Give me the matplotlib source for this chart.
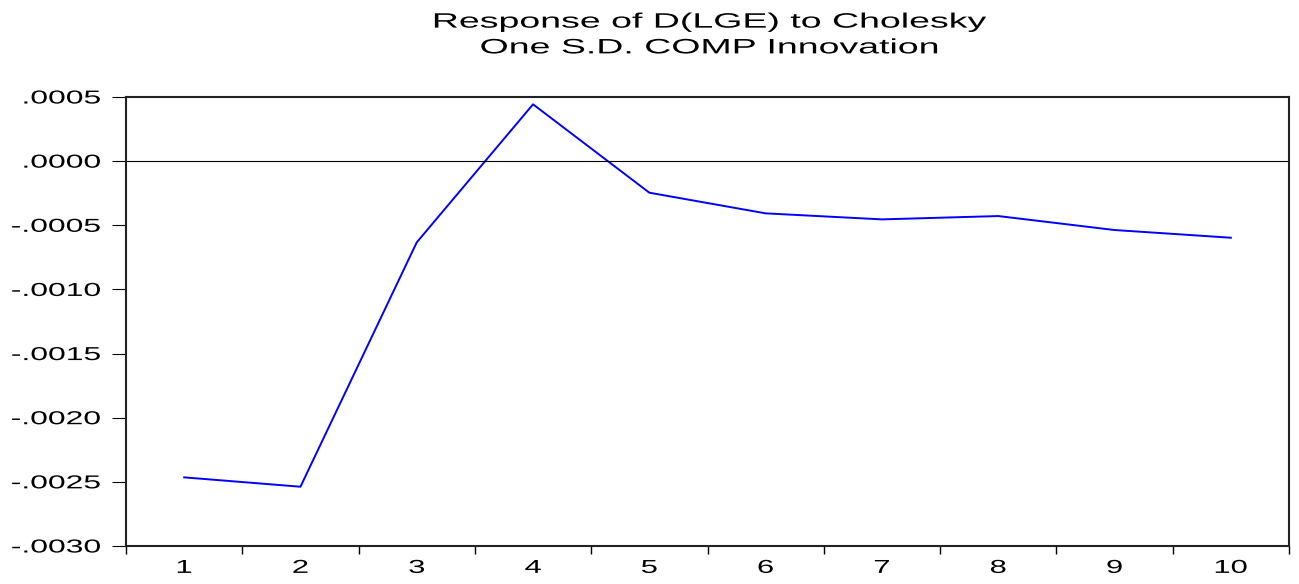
import numpy as np
import matplotlib
matplotlib.use("Agg")
import matplotlib.pyplot as plt
from matplotlib.ticker import FixedLocator, FuncFormatter, NullFormatter
from matplotlib.patheffects import AbstractPathEffect
from matplotlib.transforms import Affine2D

# impulse response values
periods = [1, 2, 3, 4, 5, 6, 7, 8, 9, 10]
response = [-0.002465, -0.002538, -0.000633, 0.000443, -0.000246,
            -0.000407, -0.000454, -0.000428, -0.000537, -0.000597]
y_ticks = [0.0005, 0.0, -0.0005, -0.0010, -0.0015, -0.0020, -0.0025, -0.0030]
title = "Response of D(LGE) to Cholesky\nOne S.D. COMP Innovation"

plt.rcParams['font.family'] = ['Liberation Sans', 'DejaVu Sans']


class HStretch(AbstractPathEffect):
    """Widen glyphs horizontally (the reference text is stretched)."""
    def __init__(self, sx, anchor=0.5):
        super().__init__()
        self.sx = sx
        self.anchor = anchor

    def draw_path(self, renderer, gc, tpath, affine, rgbFace=None):
        ext = tpath.get_extents()
        cx = ext.x0 + self.anchor * ext.width
        t = Affine2D().translate(-cx, 0).scale(self.sx, 1).translate(cx, 0) + affine
        renderer.draw_path(gc, tpath, t, rgbFace)


def fmt(v, pos):
    s = "%.4f" % v
    if s.startswith("-0"):
        return "-" + s[2:]
    if s.startswith("0"):
        return s[1:]
    return s


fig = plt.figure(figsize=(12.99, 5.84), dpi=100)
ax = fig.add_axes([126 / 1299, 38 / 584, 1163 / 1299, 449 / 584])

ax.plot(periods, response, color='#0000ff', lw=1.4)
ax.axhline(0, color='black', lw=0.8)

ax.set_xlim(0.5, len(periods) + 0.5)
ax.set_ylim(-0.0030, 0.0005)

# x: tick marks between periods, labels centred on the periods
ax.xaxis.set_major_locator(FixedLocator(np.arange(0.5, len(periods) + 1, 1)))
ax.xaxis.set_major_formatter(NullFormatter())
ax.xaxis.set_minor_locator(FixedLocator(periods))
ax.xaxis.set_minor_formatter(FuncFormatter(lambda v, p: "%d" % v))
ax.tick_params(axis='x', which='major', direction='out', length=6, width=1)
ax.tick_params(axis='x', which='minor', length=0, pad=10, labelsize=13.5)

ax.yaxis.set_major_locator(FixedLocator(y_ticks))
ax.yaxis.set_major_formatter(FuncFormatter(fmt))
ax.tick_params(axis='y', direction='out', length=10, width=0.8, pad=8, labelsize=13.5)

for sp in ax.spines.values():
    sp.set_linewidth(1.5)
    sp.set_color('#222222')

fig.canvas.draw()
for lab in ax.get_xticklabels(minor=True):
    lab.set_path_effects([HStretch(1.65, 0.5)])
for lab in ax.get_yticklabels():
    lab.set_path_effects([HStretch(1.7, 1.0)])

fig.text(710 / 1299, 1 - 35 / 584, title, ha='center', va='center',
         fontsize=15, linespacing=1.45, path_effects=[HStretch(1.8, 0.5)])

fig.savefig("out.png", dpi=100)
